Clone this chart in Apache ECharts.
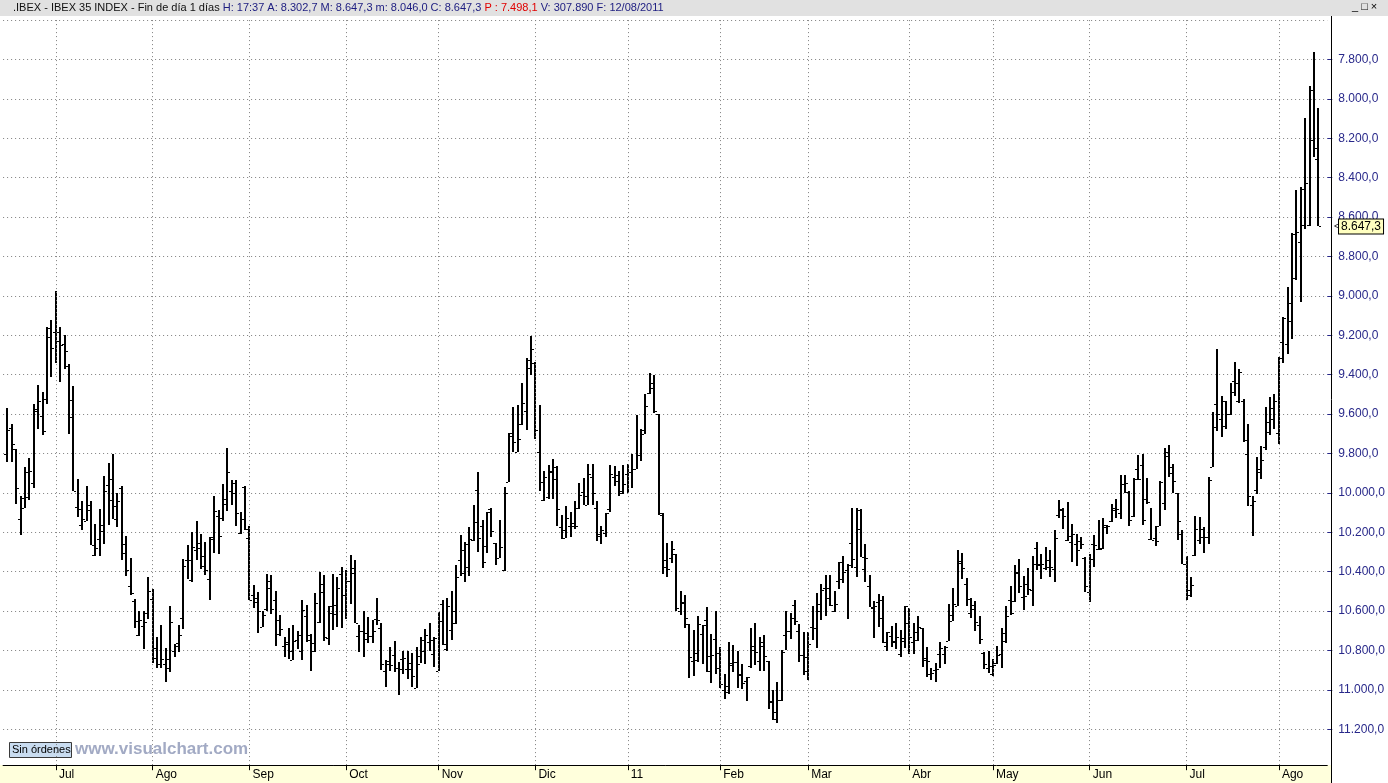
<!DOCTYPE html>
<html>
<head>
<meta charset="utf-8">
<script src="https://cdn.jsdelivr.net/npm/echarts@6/dist/echarts.min.js"></script>
<style>
html,body{margin:0;padding:0;background:#fff;}
#chart{width:1388px;height:783px;}
</style>
</head>
<body>
<div id="chart"></div>
<script>
// ---- DATA (IBEX 35, daily bars) ----
var opens = [
9803,9673,9775,10131,10024,9895,9951,9576,9610,9524,
9210,9181,9229,9246,9356,9529,10071,10164,10144,10085,
10315,10232,10195,9961,10037,10131,9973,10258,10475,10549,
10719,10678,10608,10537,10786,10868,10871,10888,10805,10761,
10634,10339,10441,10288,10280,10322,10439,10224,10119,10129,
10032,9990,9952,10202,9970,10229,10517,10556,10680,10588,
10449,10546,10644,10775,10759,10846,10746,10800,10624,10720,
10805,10654,10463,10736,10573,10614,10410,10520,10449,10405,
10725,10703,10709,10725,10639,10685,10902,10871,10825,10890,
10844,10893,10864,10988,10827,10749,10759,10817,10902,10563,
10792,10698,10661,10339,10409,10378,10237,9985,10168,10270,
10083,10252,10330,10392,9944,9710,9790,9652,9586,9364,
9341,9790,10036,10019,9888,9866,10175,10227,10168,10166,
10078,9997,10059,9917,10076,10219,10202,10083,9919,9939,
9998,9903,9895,9881,9807,9683,9493,9469,9602,10103,
10341,10330,10312,10598,10553,10668,10852,10847,10715,10644,
10829,10741,10888,11003,10981,10876,10856,10922,10953,10878,
10776,10851,10758,10851,11059,11147,11049,10720,10703,10568,
10703,10825,10902,10681,10685,10597,10483,10532,10597,10447,
10349,10393,10253,10375,10185,10385,10475,10585,10554,10546,
10775,10725,10759,10817,10754,10658,10758,10749,10688,10839,
10919,10898,10817,10817,10753,10649,10575,10356,10461,10608,
10571,10673,10814,10888,10919,10864,10817,10753,10546,10549,
10405,10529,10461,10495,10280,10368,10380,10376,10385,10110,
10081,10237,10251,10261,10244,10329,10505,10258,10287,10280,
10173,10142,10075,10102,9956,9995,10119,9881,9859,10029,
10232,10227,10170,10051,9792,9898,10000,10207,10359,10520,
10313,10237,10222,10222,9869,9551,9624,9660,9597,9434,
9533,9533,9802,10059,9983,9878,9769,9693,9624,9696,
9234,9243,9125,8908,8726,8638,8641,8210,8302.7];
var highs = [
9842,9842,10054,10212,10076,10034,9973,9678,9708,9547,
9410,9342,9436,9369,9700,9990,10124,10188,10144,10264,
10319,10322,10259,10163,10131,10173,10339,10422,10517,10686,
10725,10793,10642,10864,10890,10888,10958,10910,10834,10809,
10692,10439,10453,10339,10386,10415,10542,10305,10310,10141,
10092,10061,10170,10210,10186,10546,10583,10710,10681,10597,
10615,10778,10727,10834,10841,10849,10793,10846,10756,10903,
10807,10658,10754,10773,10698,10680,10685,10641,10563,10661,
10809,10834,10763,10763,10671,10898,10986,10902,10909,11026,
10920,10946,10986,10992,10863,10868,10803,10886,10905,10771,
10800,10749,10664,10422,10453,10422,10246,10302,10383,10307,
10225,10366,10330,10395,9944,9793,9793,9656,9681,9400,
9724,9990,10041,10032,10030,10168,10234,10229,10225,10181,
10083,10059,10059,10061,10246,10259,10225,10097,9963,10017,
10005,9998,9976,9881,9837,9700,9497,9592,10112,10414,
10427,10358,10598,10620,10685,10941,10930,10859,10868,10907,
10966,10919,10990,11046,11020,10910,10990,10995,11058,10890,
10876,10902,10905,11098,11153,11170,11054,10797,10742,10673,
10856,10924,10949,10746,10786,10644,10627,10575,10605,10486,
10458,10641,10380,10427,10325,10453,10580,10737,10681,10764,
10802,10783,10790,10832,10788,10819,10819,10753,10885,10932,
10949,10961,10888,10868,10754,10649,10576,10437,10576,10634,
10700,10766,10895,10914,10931,10868,10888,10761,10622,10554,
10507,10595,10520,10573,10393,10437,10390,10425,10453,10125,
10181,10242,10349,10370,10285,10505,10554,10376,10292,10287,
10210,10148,10127,10134,10003,10168,10122,9936,10164,10058,
10241,10271,10170,10088,9919,10000,10237,10359,10546,10529,
10322,10258,10304,10258,9869,9687,9715,9678,9606,9506,
9542,9742,10068,10218,10005,9928,9783,9705,9678,9751,
9343,9297,9218,8920,9029,8659,8645,8293,8647.3];
var lows = [
9568,9651,9775,10017,9870,9825,9549,9453,9490,9158,
9122,8975,9158,9198,9347,9458,9930,10042,9966,10042,
10159,10080,9915,9849,9802,10002,9966,10220,10332,10537,
10598,10602,10429,10490,10729,10673,10785,10576,10766,10673,
10336,10263,10200,10142,10207,10251,10225,10015,10088,9954,
9773,9936,9936,10097,9966,10170,10469,10503,10598,10410,
10419,10500,10622,10732,10688,10673,10703,10546,10571,10717,
10510,10400,10417,10576,10414,10429,10376,10393,10314,10342,
10673,10597,10632,10647,10531,10661,10848,10783,10754,10856,
10800,10800,10814,10783,10729,10693,10658,10732,10605,10542,
10531,10500,10366,10215,10251,10171,10063,9892,10137,10095,
10076,10252,10136,9968,9695,9566,9556,9444,9314,9203,
9334,9552,9890,9858,9827,9863,10110,10064,10095,10039,
9949,9922,9853,9853,10041,10168,10102,9858,9863,9890,
9859,9853,9800,9603,9676,9500,9390,9403,9598,10100,
10252,10246,10310,10497,10517,10664,10695,10627,10669,10580,
10715,10602,10780,10919,10759,10770,10805,10871,10932,10686,
10658,10734,10720,10851,10998,10961,10797,10602,10610,10544,
10668,10707,10707,10576,10510,10464,10419,10415,10498,10353,
10319,10363,10078,10078,10083,10261,10419,10551,10512,10522,
10705,10678,10661,10698,10573,10583,10659,10627,10686,10780,
10888,10863,10759,10778,10563,10485,10292,10305,10434,10531,
10548,10624,10810,10803,10842,10776,10688,10576,10475,10368,
10336,10424,10381,10322,10249,10309,10273,10288,10190,10034,
10075,10046,10159,10207,10224,10325,10312,10215,10136,10125,
10161,10054,10029,9907,9907,9992,9924,9808,9803,9922,
10075,10170,9939,9770,9758,9851,10000,10190,10322,10427,
10117,10122,10171,9918,9588,9270,9506,9533,9443,9334,
9370,9524,9651,10014,9820,9760,9566,9511,9497,9312,
9109,8953,8681,8464,8445,8097,7932,7764,8046.0];
var closes = [
9681,9753,9973,10075,10020,9888,9585,9534,9686,9164,
9266,9181,9251,9280,9615,9990,10081,10131,10059,10264,
10278,10161,9992,9930,10064,10042,10303,10390,10509,10649,
10644,10656,10500,10839,10871,10844,10844,10653,10778,10719,
10373,10342,10275,10256,10370,10393,10232,10092,10220,10054,
9895,10002,10102,10134,10185,10546,10534,10602,10622,10481,
10588,10714,10690,10766,10805,10754,10719,10593,10746,10764,
10559,10502,10734,10612,10571,10483,10517,10449,10381,10658,
10703,10741,10725,10703,10647,10868,10851,10876,10888,10895,
10837,10893,10929,10870,10800,10720,10746,10736,10651,10766,
10573,10602,10429,10292,10258,10236,10148,10229,10349,10097,
10193,10330,10273,9998,9697,9744,9724,9546,9327,9268,
9680,9947,9917,9893,9929,10083,10188,10127,10151,10170,
10013,10015,9903,10002,10208,10190,10102,9903,9908,9988,
9954,9895,9880,9808,9703,9561,9441,9585,10110,10378,
10386,10285,10585,10559,10637,10832,10815,10664,10673,10902,
10825,10814,10970,11012,10864,10858,10919,10966,10936,10795,
10808,10776,10827,11054,11114,11051,10807,10702,10634,10649,
10825,10834,10766,10685,10566,10495,10485,10571,10563,10436,
10402,10368,10334,10088,10325,10329,10580,10576,10636,10759,
10707,10753,10732,10737,10575,10729,10707,10681,10848,10851,
10914,10893,10786,10783,10622,10563,10348,10380,10537,10588,
10656,10741,10868,10881,10876,10825,10712,10627,10610,10402,
10473,10525,10486,10359,10363,10363,10342,10376,10227,10085,
10115,10220,10207,10288,10258,10475,10337,10266,10283,10161,
10170,10085,10083,9953,9948,10136,9931,9927,10136,10046,
10237,10246,9944,9814,9871,9939,10144,10359,10492,10470,
10182,10182,10226,9936,9666,9602,9533,9597,9488,9443,
9385,9733,10014,10041,9896,9832,9638,9570,9533,9316,
9113,9035,8685,8674,8455,8427,7956,8251,8647.3];

// month labels and the bar index (0-based) where each month starts
var monthLabels = ['Jul','Ago','Sep','Oct','Nov','Dic','11','Feb','Mar','Abr','May','Jun','Jul','Ago'];
var monthStart  = [11, 33, 55, 77, 98, 120, 141, 162, 182, 205, 224, 246, 268, 289];

var titleParts = {
  name: '.IBEX - IBEX 35 INDEX - Fin de día 1 días ',
  vals: 'H: 17:37 A: 8.302,7 M: 8.647,3 m: 8.046,0 C: 8.647,3 ',
  prev: 'P : 7.498,1 ',
  tail: 'V: 307.890 F: 12/08/2011'
};
var lastLabel = '8.647,3';

// ---- build ----
var PAD_L = 1, PAD_R = 2;
var N = opens.length;
var cats = [];
for (var i = 0; i < N + PAD_L + PAD_R; i++) cats.push(String(i));
var labelAt = {};
monthStart.forEach(function (s, k) { labelAt[s + PAD_L] = monthLabels[k]; });
function isMonth(idx) { return labelAt.hasOwnProperty(idx); }

var data = [];
for (var j = 0; j < N; j++) data.push([j + PAD_L, opens[j], closes[j], lows[j], highs[j]]);

function fmtNum(v, dec) {
  var neg = v < 0; v = Math.abs(v);
  var s = v.toFixed(dec);
  var parts = s.split('.');
  var ip = parts[0].replace(/\B(?=(\d{3})+(?!\d))/g, '.');
  return (neg ? '-' : '') + ip + (dec ? ',' + parts[1] : '');
}

var FONT = '"Liberation Sans", Arial, sans-serif';
var chart = echarts.init(document.getElementById('chart'), null, {renderer: 'canvas'});

var option = {
  animation: false,
  backgroundColor: '#ffffff',
  grid: {left: 3.1, right: 57.6, top: 20.1, bottom: 14.3, containLabel: false},
  xAxis: {
    type: 'category', data: cats, boundaryGap: false, offset: -3.5, z: 10,
    axisLine: {show: true, lineStyle: {color: '#000', width: 1}},
    axisTick: {show: true, interval: function (i) { return isMonth(i); }, length: 5, lineStyle: {color: '#000'}},
    axisLabel: {
      interval: function (i) { return isMonth(i); },
      formatter: function (v, i) { return labelAt[i] || ''; },
      align: 'left', padding: [0, 0, 0, 3], margin: 3,
      color: '#000', fontSize: 12, fontFamily: FONT
    },
    splitLine: {show: true, interval: function (i) { return isMonth(i); }, lineStyle: {color: '#7f7f7f', type: [1, 3], width: 1}}
  },
  yAxis: {
    type: 'value', position: 'right', inverse: true,
    min: 7600, max: 11400, interval: 200,
    axisLine: {show: false},
    axisTick: {show: true, length: 5, lineStyle: {color: '#28288a'}},
    axisLabel: {formatter: function (v) { return fmtNum(v, 1); }, color: '#28288a', fontSize: 12, margin: 11, fontFamily: FONT,
      showMinLabel: false, showMaxLabel: false},
    splitLine: {show: true, lineStyle: {color: '#7f7f7f', type: [1, 3], width: 1}}
  },
  series: [{
    type: 'custom', clip: false, z: 2,
    encode: {x: 0, y: [1, 2, 3, 4]},
    data: data,
    renderItem: function (params, api) {
      var xi = api.value(0);
      var pO = api.coord([xi, api.value(1)]);
      var pC = api.coord([xi, api.value(2)]);
      var pL = api.coord([xi, api.value(3)]);
      var pH = api.coord([xi, api.value(4)]);
      var cx = Math.round(pO[0]);
      var y1 = Math.round(Math.min(pL[1], pH[1]));
      var y2 = Math.round(Math.max(pL[1], pH[1]));
      return {type: 'group', children: [
        {type: 'rect', shape: {x: cx - 1, y: y1, width: 2, height: Math.max(1, y2 - y1)}, style: {fill: '#000'}},
        {type: 'rect', shape: {x: cx - 3, y: Math.round(pO[1]), width: 2, height: 1}, style: {fill: '#000'}},
        {type: 'rect', shape: {x: cx + 1, y: Math.round(pC[1]), width: 2, height: 1}, style: {fill: '#000'}}
      ]};
    }
  }]
};
chart.setOption(option);

var lastY = chart.convertToPixel({yAxisIndex: 0}, closes[N - 1]);

chart.setOption({
  graphic: [
    {type: 'rect', z: 5, shape: {x: 0, y: 0, width: 1388, height: 16}, style: {fill: '#e1e1e1'}},
    {type: 'text', z: 6, x: 13, y: 8, style: {
      text: '{a|' + titleParts.name + '}{b|' + titleParts.vals + '}{r|' + titleParts.prev + '}{b|' + titleParts.tail + '}',
      verticalAlign: 'middle', font: '11px ' + FONT,
      rich: {a: {fill: '#101010', font: '11px ' + FONT}, b: {fill: '#1c1c80', font: '11px ' + FONT}, r: {fill: '#e00000', font: '11px ' + FONT}}
    }},
    {type: 'text', z: 6, x: 1352, y: 1, style: {text: '_ □ ×', font: '11px ' + FONT, fill: '#000'}},
    {type: 'rect', z: 5, shape: {x: 0, y: 765, width: 1331, height: 18}, style: {fill: '#ffffdc'}},
    {type: 'line', z: 6, shape: {x1: 1331.5, y1: 16, x2: 1331.5, y2: 783}, style: {stroke: '#000', lineWidth: 1}},
    {type: 'rect', z: 6, shape: {x: 9.5, y: 742.5, width: 62, height: 15}, style: {fill: '#c9dcf0', stroke: '#3a3a3a', lineWidth: 1}},
    {type: 'text', z: 7, x: 12, y: 750, style: {text: 'Sin órdenes', verticalAlign: 'middle', font: '11px ' + FONT, fill: '#000'}},
    {type: 'text', z: 6, x: 75, y: 749, style: {text: 'www.visualchart.com', verticalAlign: 'middle', font: 'bold 17px ' + FONT, fill: '#a2aac4'}},
    {type: 'text', z: 8, x: 1334, y: lastY, style: {text: '<', verticalAlign: 'middle', font: '9px ' + FONT, fill: '#000'}},
    {type: 'text', z: 8, x: 1339, y: lastY, style: {
      text: lastLabel, verticalAlign: 'middle', font: '12px ' + FONT, fill: '#000',
      backgroundColor: '#ffffc0', borderColor: '#000', borderWidth: 1, padding: [1, 2, 1, 2]
    }}
  ]
});
</script>
</body>
</html>
